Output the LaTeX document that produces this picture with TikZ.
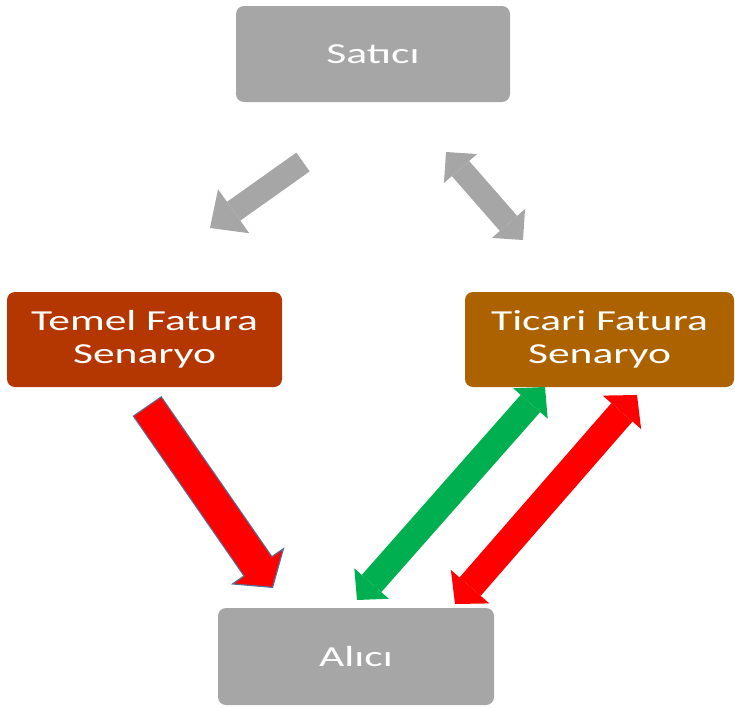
\documentclass[tikz,border=0pt]{standalone}
\usepackage{fontspec}
\setmainfont{Carlito}
\usepackage{graphicx}
\usetikzlibrary{arrows.meta}
\usetikzlibrary{positioning}
\definecolor{boxgray}{RGB}{166,166,166}
\definecolor{temelred}{RGB}{180,54,0}
\definecolor{ticarigold}{RGB}{173,98,0}
\definecolor{arrowgray}{RGB}{166,166,166}
\definecolor{arrowred}{RGB}{255,0,0}
\definecolor{arrowgreen}{RGB}{0,176,80}
\definecolor{arrowedge}{RGB}{84,112,150}
\newcommand{\wide}[1]{\scalebox{1.5}[1]{#1}}

\begin{document}
\begin{tikzpicture}[x=1pt,y=-1pt]
      \useasboundingbox (0,0) rectangle (735,707);
      \begin{scope}[every node/.style={rectangle, rounded corners=8pt, text=white, align=center, font=\fontsize{29}{33}\selectfont}]
        \node[fill=boxgray, minimum width=274pt, minimum height=96pt] (satici) at (373,54) {\wide{Satıcı}};
        \node[fill=temelred, minimum width=275pt, minimum height=95pt] (temel) at (144.5,339.5) {\wide{Temel Fatura}\\\wide{Senaryo}};
        \node[fill=ticarigold, minimum width=269pt, minimum height=95pt] (ticari) at (599.5,339.5) {\wide{Ticari Fatura}\\\wide{Senaryo}};
        \node[fill=boxgray, minimum width=276pt, minimum height=97pt] (alici) at (356,656.5) {\wide{Alıcı}};
      \end{scope}
      % arrow ends
      \coordinate (s1) at (303,162);
      \coordinate (s2) at (210,228);
      \coordinate (s3) at (446,152);
      \coordinate (s4) at (523,240);
      \coordinate (t1) at (147,406);
      \coordinate (t2) at (273,588);
      \coordinate (c1) at (545,387);
      \coordinate (c2) at (357,600);
      \coordinate (c3) at (637,395);
      \coordinate (c4) at (455,604);
      \begin{scope}[every edge/.style={draw=arrowgray, line width=23pt}]
        \path (s1) edge[-{Triangle[length=29pt,width=54pt,line width=0pt]}] (s2);
        \path (s3) edge[{Triangle[length=22pt,width=44pt,line width=0pt]}-{Triangle[length=22pt,width=44pt,line width=0pt]}] (s4);
      \end{scope}
      \begin{scope}[every edge/.style={draw, line width=26pt}]
        \path (c1) edge[arrowgreen, {Triangle[length=22pt,width=46pt,line width=0pt]}-{Triangle[length=22pt,width=46pt,line width=0pt]}] (c2);
        \path (c3) edge[arrowred, line width=28pt, {Triangle[length=23pt,width=51pt,line width=0pt]}-{Triangle[length=23pt,width=51pt,line width=0pt]}] (c4);
      \end{scope}
      \path (t1) edge[draw=arrowedge, line width=35pt, -{Triangle[length=27pt,width=65pt,line width=1.2pt,color=arrowedge,fill=arrowred]}] (t2);
      \path (t1) edge[draw=arrowred, line width=32.6pt, shorten <=1.2pt, shorten >=25pt] (t2);
    \end{tikzpicture}
\end{document}
